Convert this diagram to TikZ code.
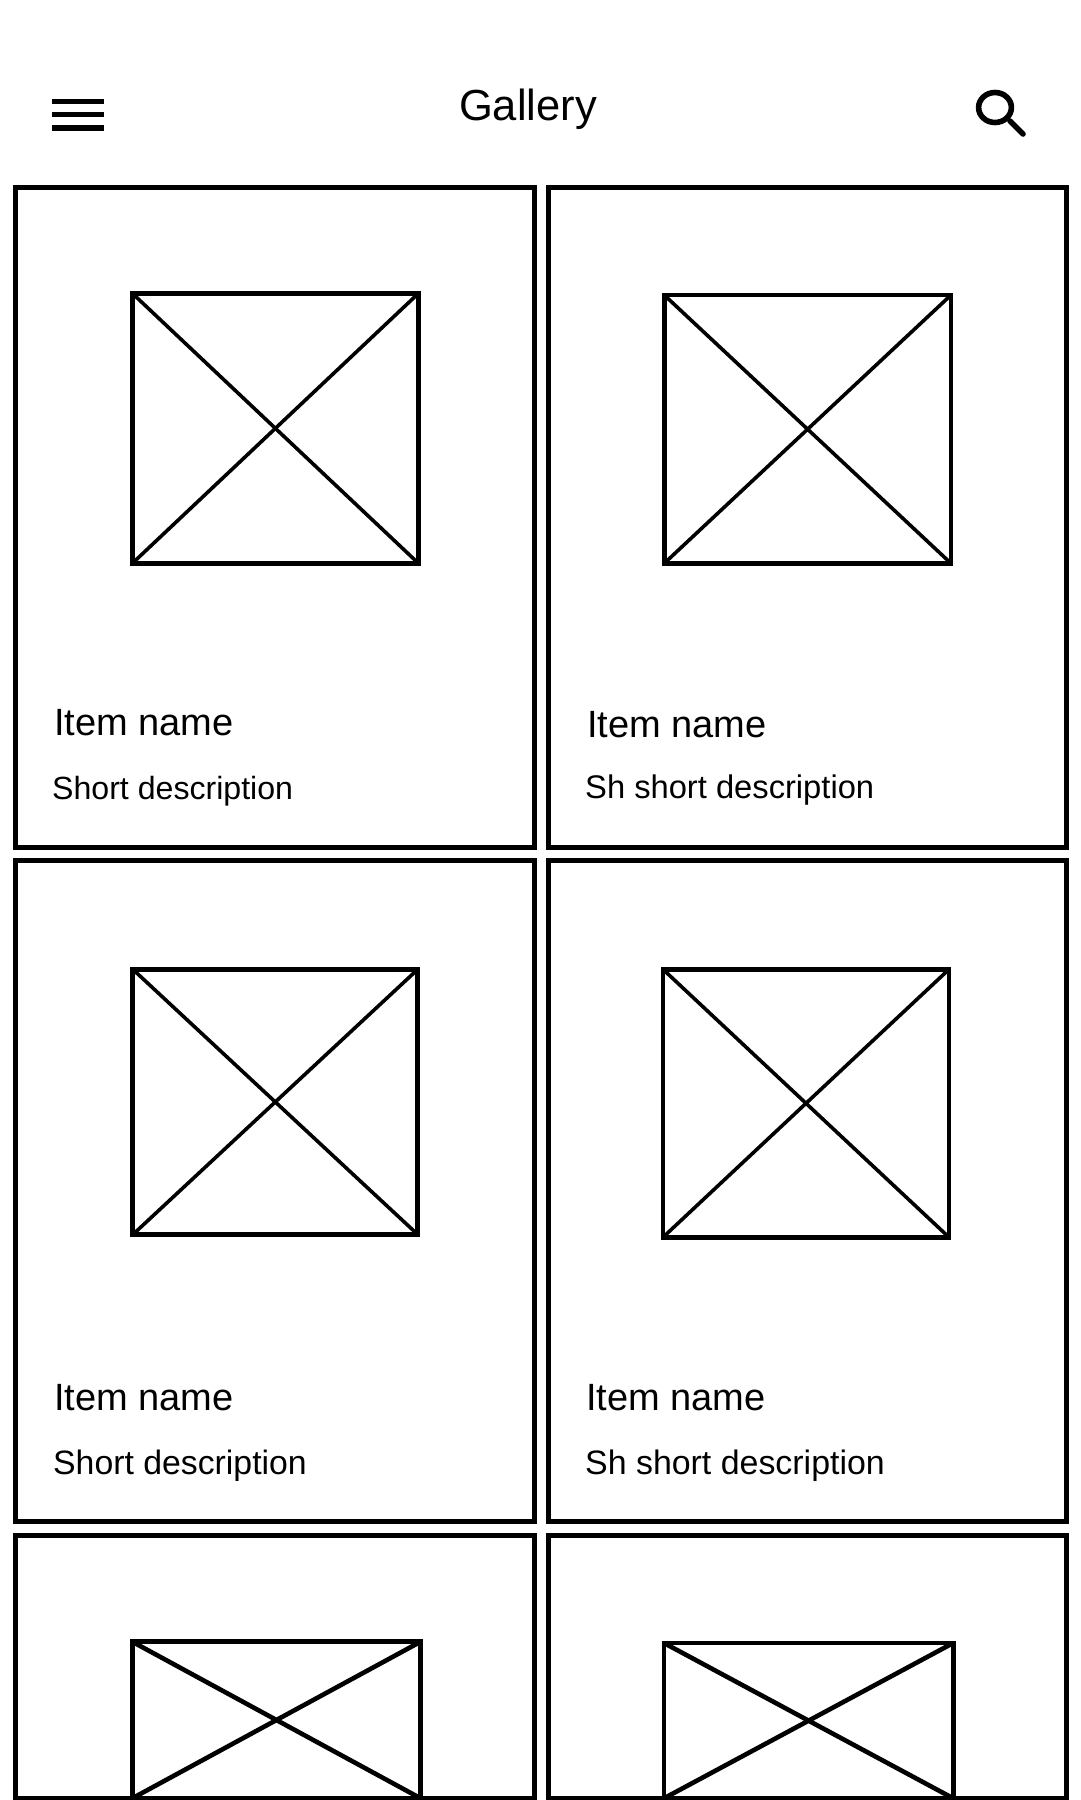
\documentclass[tikz,border=0pt]{standalone}
\usepackage{fontspec}
\setmainfont{Liberation Sans}
\def\framew{4.7pt}
\def\crossw{3.6pt}
\tikzset{
	frameline/.style={line width=\framew,draw=black},
	crossline/.style={line width=#1,draw=black},
	crossline/.default=\crossw,
	barline/.style={line width=5.4pt,draw=black},
	lenspart/.style={line width=5.6pt,draw=black,line cap=round},
	label/.style={anchor=base west,inner sep=0pt,outer sep=0pt},
	titletext/.style={label,font=\fontsize{38}{38}\selectfont},
	desctext/.style={label,font=\fontsize{#1}{#1}\selectfont}
}
\newcommand{\placeholder}[5]{
	\draw [frameline] (#1,#2) rectangle (#3,#4);
	\draw [crossline=#5] (#1,#2) -- (#3,#4);
	\draw [crossline=#5] (#1,#4) -- (#3,#2);}
\begin{document}
\begin{tikzpicture}[x=1pt,y=-1pt]
\useasboundingbox (0,0) rectangle (1080,1800);
% top bar
\foreach \y in {101.5,114.5,128} {\draw [barline] (52,\y) -- (104,\y);}
\node [anchor=base,inner sep=0pt,font=\fontsize{43.5}{43.5}\selectfont] (gallery) at (528,120.5) {Gallery};
\draw [lenspart] (995,107.5) ellipse (16.4 and 15);
\draw [lenspart] (1010,121) -- (1023,134);
% cards
\foreach \x/\u in {15.3/534.3,548.3/1066.7}
	\foreach \y/\v in {187.3/847.3,860.3/1521.3,1535.3/1798.3} {
		\draw [frameline] (\x,\y) rectangle (\u,\v);}
% pictures
\placeholder {132.3} {293.3} {418.5} {563.4} {\crossw}
\placeholder {664.2} {295} {951} {563.4} {\crossw}
\placeholder {132.8} {969.3} {417.8} {1234.6} {\crossw}
\placeholder {663} {969.3} {949} {1237.3} {\crossw}
\placeholder {132.3} {1641.7} {420.6} {1798.3} {4.6pt}
\placeholder {664} {1643} {953.2} {1798.3} {4.6pt}
% texts
\node [titletext] (name1) at (54.2,735) {Item name};
\node [desctext=32.1] (desc1) at (52.2,799.2) {Short description};
\node [titletext] (name2) at (587,737.6) {Item name};
\node [desctext=32.7] (desc2) at (585.2,798.8) {Sh short description};
\node [titletext] (name3) at (54,1410) {Item name};
\node [desctext=33.8] (desc3) at (53.2,1474) {Short description};
\node [titletext] (name4) at (586,1410) {Item name};
\node [desctext=33.9] (desc4) at (585.2,1474) {Sh short description};
\end{tikzpicture}
\end{document}
